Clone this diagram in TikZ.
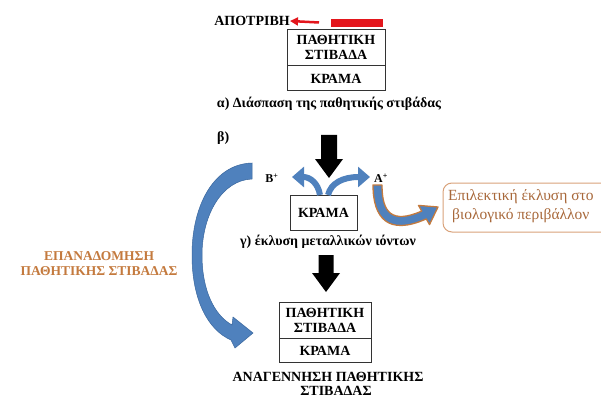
\documentclass[tikz,border=0pt]{standalone}
\usepackage{fontspec}
\setmainfont{Liberation Serif}
\usetikzlibrary{arrows.meta}
\definecolor{bluearr}{HTML}{4F81BD}
\definecolor{bluedark}{HTML}{3A679E}
\definecolor{orangetxt}{HTML}{C47A3E}
\definecolor{browntxt}{HTML}{A8683A}
\definecolor{boxborder}{HTML}{D9A27A}
\definecolor{redbar}{HTML}{E3161C}
\tikzset{
  lbl/.style={font=\fontsize{14}{15}\selectfont\bfseries, inner sep=0pt, align=center},
  part/.style={draw=black!80, line width=0.9pt, minimum width=#1, inner sep=0pt, align=center, font=\fontsize{14}{15}\selectfont\bfseries},
  blackarr/.style={fill=black},
  bluefill/.style={fill=bluearr, draw=bluedark, line width=0.5pt},
  smallblue/.style={draw=bluearr, line width=6pt, -{Triangle[length=12pt,width=20pt]}},
  seltxt/.style={font=\fontsize{15.5}{16}\selectfont, text=browntxt, anchor=west, inner sep=0pt},
}
\begin{document}
\begin{tikzpicture}[x=1pt,y=-1pt]
\clip (0,0) rectangle (601,398);
\fill[white] (0,0) rectangle (601,398);

% top: abrasion
\node[lbl, anchor=east] (apo) at (290,21) {ΑΠΟΤΡΙΒΗ};
\fill[redbar] (331,19) rectangle (383,27);
\coordinate (rtail) at (319,22.5);
\draw[redbar, line width=2.5pt, -{Triangle[length=8pt,width=8pt]}] (rtail) -- (apo.east);

% top box
\node[part=98pt, minimum height=36pt] (p1) at (336,47) {ΠΑΘΗΤΙΚΗ\\ΣΤΙΒΑΔΑ};
\node[part=98pt, minimum height=25pt, anchor=north] (k1) at (p1.south) {ΚΡΑΜΑ};
\node[lbl] (capa) at (329,104) {α) Διάσπαση της παθητικής στιβάδας};

\node[lbl, anchor=west] (beta) at (217,138) {β)};

% black arrow 1
\fill[blackarr] (321,135) -- (337,135) -- (337,159) -- (343,159) -- (329,178) -- (315,159) -- (321,159) -- cycle;

% middle box
\node[part=67pt, minimum height=35pt] (k2) at (323.5,212.5) {ΚΡΑΜΑ};
\node[font=\fontsize{12}{13}\selectfont\bfseries, inner sep=0pt] (bplus) at (272,178) {B\textsuperscript{+}};
\node[font=\fontsize{12}{13}\selectfont\bfseries, inner sep=0pt] (aplus) at (381,178) {A\textsuperscript{+}};

% small blue arrows
\coordinate (lt) at (292,177);
\coordinate (rt) at (370,177);
\draw[smallblue] (320,195) .. controls (318,183) and (310,177) .. (lt);
\draw[smallblue] (328,195) .. controls (331,183) and (343,177) .. (rt);

\node[lbl] (capg) at (328,242) {γ) έκλυση μεταλλικών ιόντων};

% black arrow 2
\fill[blackarr] (318.5,255) -- (333.5,255) -- (333.5,273) -- (340,273) -- (326,292) -- (312,273) -- (318.5,273) -- cycle;

% bottom box
\node[part=92pt, minimum height=36pt] (p3) at (325,320) {ΠΑΘΗΤΙΚΗ\\ΣΤΙΒΑΔΑ};
\node[part=92pt, minimum height=24pt, anchor=north] (k3) at (p3.south) {ΚΡΑΜΑ};
\node[lbl] (regen) at (328,377) {ΑΝΑΓΕΝΝΗΣΗ ΠΑΘΗΤΙΚΗΣ};
\node[lbl] (regen2) at (336,391) {ΣΤΙΒΑΔΑΣ};

% big blue arrow
\fill[bluefill] (252,163) .. controls (214,164) and (192,205) .. (192,255)
  .. controls (192,300) and (208,330) .. (231,340) -- (235,348) -- (253,333) -- (233,317) -- (232,325)
  .. controls (214,315) and (202,290) .. (202,255)
  .. controls (202,215) and (222,180) .. (252,179) -- cycle;

\node[lbl, text=orangetxt, font=\fontsize{13.5}{15}\selectfont\bfseries] (epan) at (99,264) {ΕΠΑΝΑΔΟΜΗΣΗ\\ΠΑΘΗΤΙΚΗΣ ΣΤΙΒΑΔΑΣ};

% orange-outlined arrow
\filldraw[fill=bluearr, draw=orangetxt, line width=1.3pt, line join=round]
  (373,185) .. controls (373,218) and (388,236) .. (426.3,218.9)
  -- (429.5,224.6) -- (438,207) -- (418.5,205.4) -- (421.7,211.1)
  .. controls (392,224) and (382,213) .. (382,185) -- cycle;

% rounded box
\draw[boxborder, line width=1pt, rounded corners=9pt] (443,183) rectangle (640,232);
\node[seltxt] (sel1) at (448,197) {Επιλεκτική έκλυση στο};
\node[seltxt] (sel2) at (452,216) {βιολογικό περιβάλλον};
\end{tikzpicture}
\end{document}
